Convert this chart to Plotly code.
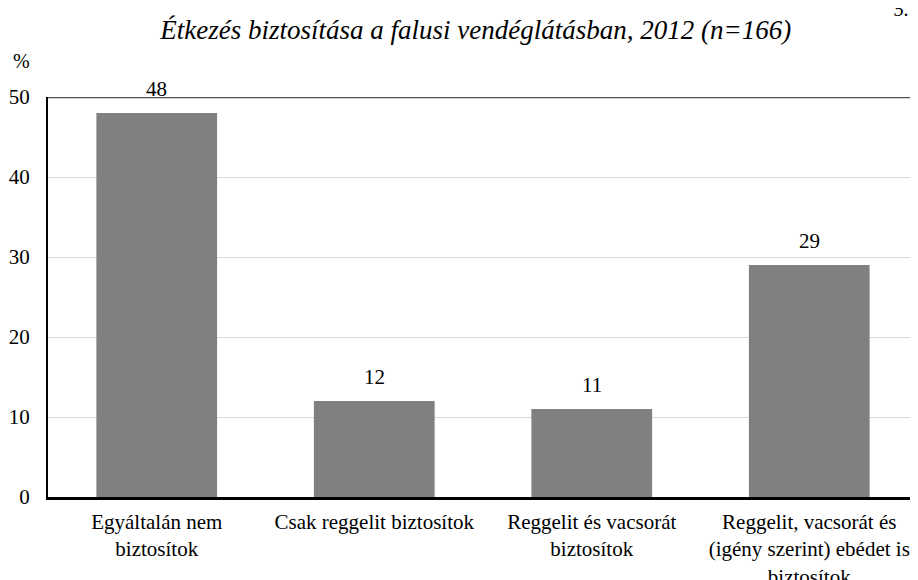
"""Étkezés biztosítása a falusi vendéglátásban – oszlopdiagram."""

import plotly.graph_objects as go

CATEGORIES = [
    "Egyáltalán nem<br>biztosítok",
    "Csak reggelit biztosítok",
    "Reggelit és vacsorát<br>biztosítok",
    "Reggelit, vacsorát és<br>(igény szerint) ebédet is<br>biztosítok",
]
SHARES = [48, 12, 11, 29]
Y_TICKS = [0, 10, 20, 30, 40, 50]

TITLE = "Étkezés biztosítása a falusi vendéglátásban, 2012 (n=166)"
FONT = "Liberation Serif"

fig = go.Figure(
    go.Bar(
        x=CATEGORIES,
        y=SHARES,
        marker=dict(color="#808080", line=dict(width=0)),
        hoverinfo="x+y",
    )
)

# értékcímkék az oszlopok fölött
for cat, val in zip(CATEGORIES, SHARES):
    fig.add_annotation(
        x=cat, y=val, text=str(val), showarrow=False,
        yanchor="bottom", yshift=10,
        font=dict(family=FONT, size=21, color="black"),
    )

fig.add_annotation(
    xref="paper", yref="paper", x=-0.0299, y=1.09, text="%",
    showarrow=False, xanchor="center", yanchor="middle",
    font=dict(family=FONT, size=20, color="black"),
)
fig.add_annotation(
    xref="paper", yref="paper", x=0.970, y=1.22, text="<i>5. ábra</i>",
    showarrow=False, xanchor="left", yanchor="middle",
    font=dict(family=FONT, size=20, color="black"),
)

# felső keretvonal 50-nél
fig.add_shape(
    type="line", xref="paper", yref="y", x0=0, x1=1, y0=50, y1=50,
    line=dict(color="#505050", width=2.5),
)

# az oldal 8 px-es body margója miatt kisebb a vászon
fig.update_layout(
    title=dict(
        text=f"<i>{TITLE}</i>", x=0.514, xanchor="center", y=0.962, yanchor="middle",
        font=dict(family=FONT, size=27, color="black"),
    ),
    width=910,
    height=572,
    margin=dict(l=40, r=0, t=89, b=83),
    paper_bgcolor="white",
    plot_bgcolor="white",
    bargap=0.445,
    showlegend=False,
)
fig.update_xaxes(
    showgrid=False, showline=True, linecolor="black", linewidth=2.5,
    ticks="", tickfont=dict(family=FONT, size=21, color="black"),
    ticklabelstandoff=4, automargin=False,
)
fig.update_yaxes(
    range=[0, 50], tickvals=Y_TICKS, showgrid=True, gridcolor="#d9d9d9", gridwidth=1,
    showline=True, linecolor="black", linewidth=2, zeroline=False,
    ticks="", tickfont=dict(family=FONT, size=21, color="black"),
    ticklabelstandoff=12, automargin=False,
)

fig.write_html("out.html")
